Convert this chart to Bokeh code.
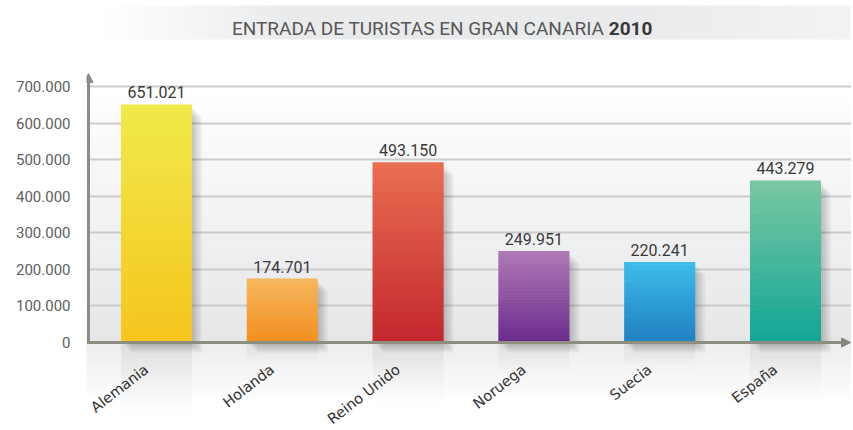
import numpy as np
from bokeh.plotting import figure
from bokeh.models import Range1d, FixedTicker, Arrow, NormalHead
from bokeh.layouts import column
from bokeh.embed import file_html
from bokeh.resources import INLINE
from bokeh.core.properties import value

# ---------------- data ----------------
categories = ["Alemania", "Holanda", "Reino Unido", "Noruega", "Suecia", "España"]
tourists = [651021, 174701, 493150, 249951, 220241, 443279]
y_ticks = [0, 100000, 200000, 300000, 400000, 500000, 600000, 700000]
y_tick_labels = ["0", "100.000", "200.000", "300.000", "400.000", "500.000", "600.000", "700.000"]
title_main = "ENTRADA DE TURISTAS EN GRAN CANARIA"
title_year = "2010"

# ---------------- styles ----------------
top_colors = ["#f0ea4a", "#f6b75c", "#ea6e52", "#b07ab6", "#3dbdec", "#7ac8a2"]
bottom_colors = ["#f6c51e", "#f38e1f", "#c3272e", "#6a2a8d", "#1e7fc1", "#11a596"]


def hex2rgb(h):
    h = h.lstrip("#")
    return np.array([int(h[i:i + 2], 16) for i in (0, 2, 4)], dtype=float)


def mix(c1, c2, t):
    a, b = hex2rgb(c1), hex2rgb(c2)
    c = a + (b - a) * t
    return "#%02x%02x%02x" % tuple(int(round(v)) for v in c)


def interp_stops(stops, t):
    for (p0, c0), (p1, c1) in zip(stops[:-1], stops[1:]):
        if p0 <= t <= p1:
            return mix(c0, c1, (t - p0) / (p1 - p0) if p1 > p0 else 0)
    return stops[-1][1]


W = 851
TH = 48

# ---------------- title band ----------------
t = figure(width=W, height=TH, x_range=Range1d(0, W), y_range=Range1d(0, TH),
           output_backend="svg", toolbar_location=None,
           x_axis_location=None, y_axis_location=None, min_border=0)
t.grid.visible = False
t.outline_line_color = None
t.background_fill_color = "white"
t.border_fill_color = "white"
band_stops = [(0.0, "#ffffff"), (0.02, "#ffffff"), (0.27, "#e9eaec"), (0.7, "#e9eaec"), (1.0, "#f3f3f4")]
NB = 120
bx = np.linspace(0, W, NB + 1)
bcols = [interp_stops(band_stops, (bx[i] + bx[i + 1]) / 2 / W) for i in range(NB)]
t.quad(left=bx[:-1], right=bx[1:] + 0.6, bottom=9, top=43, fill_color=bcols, line_color=None)
t.text(x=[576], y=[19.7], text=[title_main], text_align="right", text_baseline="alphabetic",
       text_font=value("Roboto"), text_font_size="19px", text_color="#575757")
t.text(x=[581], y=[19.7], text=[title_year], text_align="left", text_baseline="alphabetic",
       text_font=value("Roboto"), text_font_size="19px", text_font_style="bold",
       text_color="#383838")

# ---------------- main chart ----------------
H = 380
ppy = 700000 / 256.0          # data units per pixel (y)
ppx = 1 / 125.8               # data units per pixel (x)
y_lo = -86 * ppy
y_hi = 272 * ppy
x_lo = -0.0564
x_hi = x_lo + (W - 86) * ppx

p = figure(width=W, height=H, x_range=Range1d(x_lo, x_hi), y_range=Range1d(y_lo, y_hi),
           output_backend="svg", toolbar_location=None, x_axis_location=None,
           min_border_left=86, min_border_right=0, min_border_top=22, min_border_bottom=0)
p.outline_line_color = None
p.background_fill_color = "white"
p.border_fill_color = "white"

centers = np.arange(len(categories)) + 0.5
vals = np.array(tourists, dtype=float)
bw = 0.565

# background gradient above the baseline
NG = 60
gy = np.linspace(0, y_hi, NG + 1)
gcols = [mix("#e5e6e8", "#ffffff", min(1.0, ((gy[i] + gy[i + 1]) / 2) / 700000.0)) for i in range(NG)]
r = p.quad(left=x_lo, right=x_hi, bottom=gy[:-1], top=gy[1:] + ppy * 0.6, fill_color=gcols, line_color=None)
r.level = "image"
# gradient below the baseline
gy2 = np.linspace(0, -60 * ppy, 31)
gcols2 = [mix("#ececed", "#ffffff", i / 30.0) for i in range(30)]
r = p.quad(left=x_lo, right=x_hi, top=gy2[:-1], bottom=gy2[1:] - ppy * 0.6, fill_color=gcols2, line_color=None)
r.level = "image"
# faint reflections under the bars
NR = 20
for j in range(NR):
    a = 0.055 * (1 - j / NR)
    r = p.quad(left=centers - bw / 2, right=centers + bw / 2,
               top=-vals * 0.33 * j / NR, bottom=-vals * 0.33 * (j + 1) / NR,
               fill_color="black", fill_alpha=a, line_color=None)
    r.level = "image"

# grid
p.xgrid.visible = False
p.ygrid.ticker = FixedTicker(ticks=y_ticks)
p.ygrid.grid_line_color = "#cbcbcc"
p.ygrid.grid_line_width = 2

# bar shadows
for k in range(1, 6):
    d = 2 * k
    p.quad(left=centers - bw / 2 + d * ppx, right=centers + bw / 2 + d * ppx,
           top=vals - (d + 2) * ppy, bottom=-d * ppy,
           fill_color="black", fill_alpha=0.045, line_color=None)

# bars with vertical gradient
NS = 30
for j in range(NS):
    f0, f1 = j / NS, (j + 1) / NS
    cols = [mix(b, tcol, (j + 0.5) / NS) for b, tcol in zip(bottom_colors, top_colors)]
    p.quad(left=centers - bw / 2, right=centers + bw / 2,
           bottom=vals * f0, top=vals * f1 + (0 if j == NS - 1 else ppy * 0.5),
           fill_color=cols, line_color=None)

# value labels
value_labels = [f"{int(v):,}".replace(",", ".") for v in tourists]
p.text(x=centers, y=vals, text=value_labels, text_align="center", text_baseline="alphabetic",
       y_offset=-12, text_font=value("Roboto"), text_font_size="16px", text_color="#3a3a3a")

# category labels (rotated)
p.text(x=centers, y=np.zeros(len(categories)), text=categories, angle=0.66,
       text_align="right", text_baseline="middle", x_offset=-10, y_offset=25,
       text_font=value("DejaVu Sans"), text_font_size="14.5px", text_color="#333333")

# y axis
p.yaxis.ticker = FixedTicker(ticks=y_ticks)
p.yaxis.major_label_overrides = {tk: lb for tk, lb in zip(y_ticks, y_tick_labels)}
p.yaxis.axis_line_color = None
p.yaxis.major_tick_line_color = None
p.yaxis.minor_tick_line_color = None
p.yaxis.major_label_standoff = 10
p.yaxis.major_label_text_font = "Roboto"
p.yaxis.major_label_text_font_size = "15px"
p.yaxis.major_label_text_color = "#606060"

# axis arrows
ax_x = x_lo + 2 * ppx
p.add_layout(Arrow(end=NormalHead(size=9, fill_color="#8c8c8c", line_color="#8c8c8c"),
                   x_start=ax_x, y_start=-1.5 * ppy, x_end=ax_x, y_end=269 * ppy,
                   line_color="#8c8c8c", line_width=3))
p.add_layout(Arrow(end=NormalHead(size=9, fill_color="#84847a", line_color="#84847a"),
                   x_start=ax_x - 1 * ppx, y_start=0, x_end=x_hi - 1 * ppx, y_end=0,
                   line_color="#8e8e80", line_width=3))

layout = column(t, p, spacing=0)
open("out.html", "w").write(file_html(layout, INLINE))
